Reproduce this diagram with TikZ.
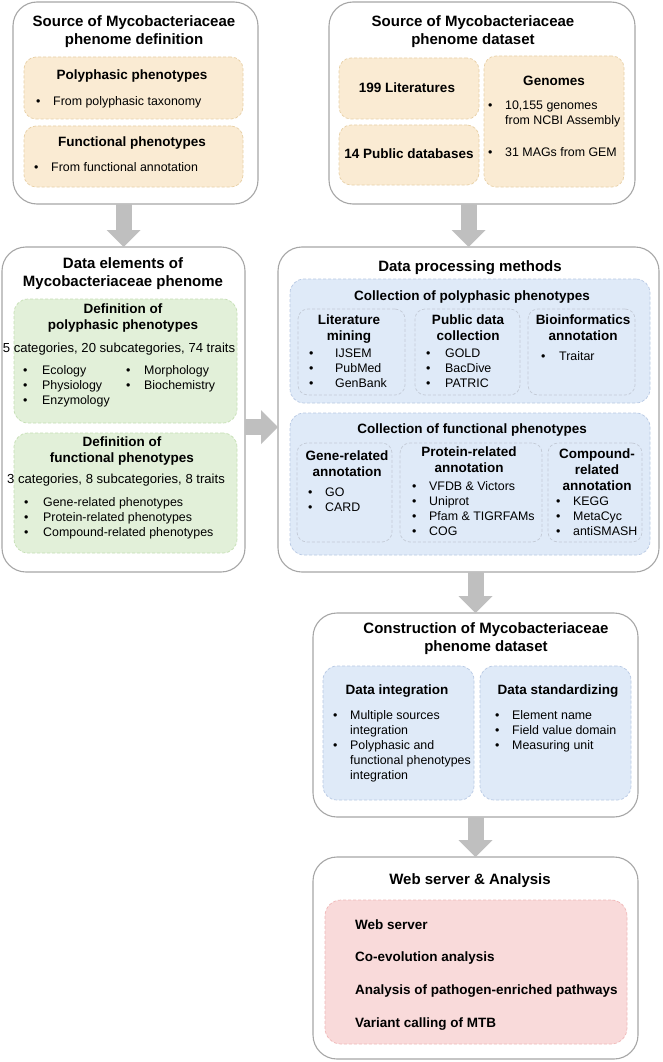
\documentclass[tikz,border=0pt]{standalone}
\usepackage{fontspec}
\setmainfont{Liberation Sans}
\usetikzlibrary{fit,arrows.meta}
\definecolor{bordergray}{HTML}{A6A6A6}
\definecolor{arrowgray}{HTML}{BFBFBF}
\definecolor{yfill}{HTML}{FAEBD3}
\definecolor{yline}{HTML}{E8D0A6}
\definecolor{gfill}{HTML}{E2F0D9}
\definecolor{gline}{HTML}{C5DFB4}
\definecolor{bfill}{HTML}{DFEAF8}
\definecolor{bline}{HTML}{B8C9E4}
\definecolor{sline}{HTML}{C3CAD6}
\definecolor{pfill}{HTML}{F9DADA}
\definecolor{pline}{HTML}{F0B8B8}
\newcommand\itm[2]{\makebox[#1pt][l]{\textbullet}#2}
\newcommand\cnt[2]{\hspace*{#1pt}#2}
\begin{document}
\begin{tikzpicture}[x=1pt,y=-1pt,
  outer/.style={draw=bordergray, line width=1.1pt, fill=white, rounded corners=24pt, inner sep=0pt, outer sep=0pt},
  dsh/.style={dash pattern=on 3pt off 2pt, line width=0.7pt, inner sep=0pt, outer sep=0pt},
  ybox/.style={dsh, draw=yline, fill=yfill, rounded corners=12pt},
  gbox/.style={dsh, draw=gline, fill=gfill, rounded corners=14pt},
  bbox/.style={dsh, draw=bline, fill=bfill, rounded corners=14pt},
  sbox/.style={dsh, draw=sline, rounded corners=10pt},
  pbox/.style={dsh, draw=pline, fill=pfill, rounded corners=16pt},
  ttl/.style={inner sep=0pt, align=center, anchor=north, font=\fontsize{15}{18}\selectfont\bfseries, yshift=7.65pt, execute at begin node=\strut},
  sub/.style={inner sep=0pt, align=center, anchor=north, font=\fontsize{13.5}{16}\selectfont\bfseries, yshift=6.74pt, execute at begin node=\strut},
  cat/.style={inner sep=0pt, align=center, anchor=north, font=\fontsize{13.1}{15}\selectfont, yshift=6.18pt, execute at begin node=\strut},
  body/.style={inner sep=0pt, align=left, anchor=north west, font=\fontsize{12.4}{14.8}\selectfont, yshift=6.27pt, execute at begin node=\strut},
  item/.style={inner sep=0pt, align=left, anchor=north west, font=\fontsize{13.5}{16}\selectfont\bfseries, yshift=6.74pt, execute at begin node=\strut},
  fat/.style={draw=arrowgray, line width=16pt, -{Triangle[width=34pt,length=17pt,line width=0pt]}}
]
\useasboundingbox (0,0) rectangle (662,1062);
\fill[white] (0,0) rectangle (662,1062);

% outer boxes
\node[outer, fit={(13,2)(258,204)}] (src1) {};
\node[outer, fit={(329,2)(635,204)}] (src2) {};
\node[outer, fit={(2,247)(245,572)}] (elem) {};
\node[outer, fit={(278,247)(659,572)}] (proc) {};
\node[outer, fit={(313,613)(638,817)}] (cons) {};
\node[outer, fit={(313,857)(638,1059)}] (web) {};

% inner boxes
\node[ybox, fit={(24,57)(243,119)}] (polydef) {};
\node[ybox, fit={(24,126)(243,187)}] (funcdef) {};
\node[ybox, fit={(339,58)(479,119)}] (litbox) {};
\node[ybox, fit={(339,125)(479,185)}] (pubdb) {};
\node[ybox, fit={(484,56)(624,187)}] (genomes) {};
\node[gbox, fit={(14,299)(237,423)}] (polyel) {};
\node[gbox, fit={(14,433)(237,553)}] (funcel) {};
\node[bbox, fit={(290,279)(650,403)}] (polycol) {};
\node[sbox, fit={(298,309)(405,395)}] (litmin) {};
\node[sbox, fit={(415,309)(520,395)}] (pubcol) {};
\node[sbox, fit={(528,309)(635,395)}] (bioann) {};
\node[bbox, fit={(290,413)(650,555)}] (funccol) {};
\node[sbox, fit={(297,443)(392,542)}] (geneann) {};
\node[sbox, fit={(400,443)(542,542)}] (protann) {};
\node[sbox, fit={(548,443)(642,542)}] (compann) {};
\node[bbox, fit={(323,666)(474,800)}] (integ) {};
\node[bbox, fit={(480,666)(631,800)}] (stand) {};
\node[pbox, fit={(325,900)(627,1044)}] (webitems) {};

% box 1 texts
\node[ttl] (t1) at (134,23) {Source of Mycobacteriaceae\\phenome definition};
\node[sub] (t1a) at (132,75) {Polyphasic phenotypes};
\node[body] (l1a) at (36,101) {\itm{17}{From polyphasic taxonomy}};
\node[sub] (t1b) at (132,142) {Functional phenotypes};
\node[body] (l1b) at (34,167) {\itm{17}{From functional annotation}};

% box 2 texts
\node[ttl] (t2) at (473,23) {Source of Mycobacteriaceae\\phenome dataset};
\node[sub] (t2a) at (407,88) {199 Literatures};
\node[sub] (t2b) at (409,154) {14 Public databases};
\node[sub] (t2c) at (554,81) {Genomes};
\node[body] (l2a) at (488,107) {\itm{17}{10,155 genomes}\\\cnt{17}{from NCBI Assembly}};
\node[body] (l2b) at (488,152) {\itm{17}{31 MAGs from GEM}};

% box 3 texts
\node[ttl] (t3) at (123,265) {Data elements of\\Mycobacteriaceae phenome};
\node[sub] (t3a) at (123,310) {Definition of\\polyphasic phenotypes};
\node[cat] (c3a) at (119,348) {5 categories, 20 subcategories, 74 traits};
\node[body] (l3a) at (23,372) {\itm{19}{Ecology}\\\itm{19}{Physiology}\\\itm{19}{Enzymology}};
\node[body] (l3b) at (126,372) {\itm{18}{Morphology}\\\itm{18}{Biochemistry}};
\node[sub] (t3b) at (122,443) {Definition of\\functional phenotypes};
\node[cat] (c3b) at (116,479) {3 categories, 8 subcategories, 8 traits};
\node[body] (l3c) at (24,504) {\itm{19}{Gene-related phenotypes}\\\itm{19}{Protein-related phenotypes}\\\itm{19}{Compound-related phenotypes}};

% box 4 texts
\node[ttl] (t4) at (470,266) {Data processing methods};
\node[sub] (t4a) at (472,296) {Collection of polyphasic phenotypes};
\node[sub] (t4b) at (349,321) {Literature\\mining};
\node[body] (l4b) at (309,355) {\itm{26}{IJSEM}\\\itm{26}{PubMed}\\\itm{26}{GenBank}};
\node[sub] (t4c) at (468,321) {Public data\\collection};
\node[body] (l4c) at (426,355) {\itm{19}{GOLD}\\\itm{19}{BacDive}\\\itm{19}{PATRIC}};
\node[sub] (t4d) at (583,321) {Bioinformatics\\annotation};
\node[body] (l4d) at (541,356) {\itm{18}{Traitar}};
\node[sub] (t4e) at (472,429) {Collection of functional phenotypes};
\node[sub] (t4f) at (347,457) {Gene-related\\annotation};
\node[body] (l4f) at (308,494) {\itm{17}{GO}\\\itm{17}{CARD}};
\node[sub] (t4g) at (469,453) {Protein-related\\annotation};
\node[body] (l4g) at (412,488) {\itm{17}{VFDB \& Victors}\\\itm{17}{Uniprot}\\\itm{17}{Pfam \& TIGRFAMs}\\\itm{17}{COG}};
\node[sub] (t4h) at (597,455) {Compound-\\related\\annotation};
\node[body] (l4h) at (556,503) {\itm{17}{KEGG}\\\itm{17}{MetaCyc}\\\itm{17}{antiSMASH}};

% box 5 texts
\node[ttl] (t5) at (486,630) {Construction of Mycobacteriaceae\\phenome dataset};
\node[sub] (t5a) at (397,690) {Data integration};
\node[body] (l5a) at (333,717) {\itm{17}{Multiple sources}\\\cnt{17}{integration}\\\itm{17}{Polyphasic and}\\\cnt{17}{functional phenotypes}\\\cnt{17}{integration}};
\node[sub] (t5b) at (558,690) {Data standardizing};
\node[body] (l5b) at (495,717) {\itm{17}{Element name}\\\itm{17}{Field value domain}\\\itm{17}{Measuring unit}};

% box 6 texts
\node[ttl] (t6) at (470,879) {Web server \& Analysis};
\node[item] (i6a) at (355,925) {Web server};
\node[item] (i6b) at (355,957) {Co-evolution analysis};
\node[item] (i6c) at (355,990) {Analysis of pathogen-enriched pathways};
\node[item] (i6d) at (355,1023) {Variant calling of MTB};

% arrows
\coordinate (hy) at (0,427);
\draw[fat] (src1.south -| elem.north) -- (elem.north);
\draw[fat] (src2.south -| proc.north) -- (proc.north);
\draw[fat] (elem.east |- hy) -- (proc.west |- hy);
\draw[fat] (proc.south -| cons.north) -- (cons.north);
\draw[fat] (cons.south) -- (web.north);
\end{tikzpicture}
\end{document}
